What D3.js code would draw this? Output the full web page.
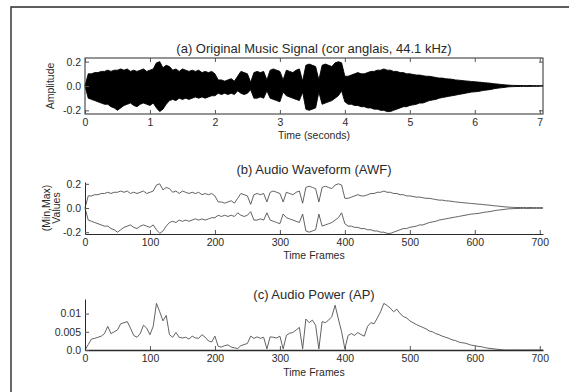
<!DOCTYPE html>
<html><head><meta charset="utf-8">
<script src="https://cdn.jsdelivr.net/npm/d3@7"></script>
<style>
body{margin:0;background:#fff;}
svg{display:block;font-family:"Liberation Sans",Arial,sans-serif;}
</style></head><body>
<svg id="chart" width="569" height="392"></svg>
<script>
// ---- data (frames sampled every 5 frames; 100 frames = 1 s) ----
const frameStep = 5;
const awfMax = [0.0,0.10,0.10,0.11,0.11,0.12,0.12,0.13,0.12,0.13,0.13,0.14,0.13,0.14,0.12,0.13,0.12,0.13,0.14,0.12,
0.13,0.14,0.19,0.20,0.15,0.17,0.16,0.13,0.14,0.12,0.14,0.13,0.12,0.13,0.12,0.13,0.11,0.12,0.11,0.12,
0.10,0.05,0.05,0.04,0.05,0.06,0.04,0.08,0.12,0.11,0.10,0.03,0.11,0.12,0.11,0.12,0.05,0.13,0.14,0.13,
0.12,0.05,0.13,0.12,0.11,0.13,0.14,0.04,0.17,0.18,0.17,0.16,0.05,0.17,0.18,0.17,0.16,0.19,0.20,0.19,
0.08,0.08,0.09,0.10,0.11,0.10,0.10,0.11,0.12,0.12,0.13,0.13,0.14,0.13,0.13,0.12,0.12,0.11,0.11,0.10,
0.10,0.095,0.09,0.09,0.085,0.08,0.08,0.075,0.07,0.065,0.065,0.06,0.058,0.055,0.05,0.048,0.045,0.042,0.04,0.037,
0.035,0.032,0.03,0.027,0.025,0.022,0.018,0.016,0.013,0.01,0.008,0.006,0.005,0.004,0.004,0.004,0.003,0.004,0.003,0.003,
0.003,0.002];
const awfMin = [0.0,-0.10,-0.11,-0.12,-0.13,-0.14,-0.15,-0.15,-0.17,-0.18,-0.20,-0.18,-0.16,-0.15,-0.14,-0.16,-0.17,-0.15,-0.14,-0.15,
-0.16,-0.14,-0.18,-0.21,-0.19,-0.15,-0.12,-0.11,-0.12,-0.10,-0.11,-0.10,-0.11,-0.10,-0.09,-0.10,-0.09,-0.10,-0.09,-0.08,
-0.08,-0.06,-0.07,-0.06,-0.07,-0.06,-0.07,-0.04,-0.06,-0.07,-0.06,-0.03,-0.10,-0.10,-0.09,-0.10,-0.04,-0.10,-0.11,-0.12,
-0.13,-0.05,-0.08,-0.09,-0.10,-0.11,-0.12,-0.05,-0.19,-0.20,-0.19,-0.18,-0.05,-0.15,-0.14,-0.13,-0.12,-0.10,-0.08,-0.04,
-0.13,-0.15,-0.15,-0.16,-0.16,-0.17,-0.17,-0.18,-0.18,-0.19,-0.19,-0.20,-0.20,-0.21,-0.21,-0.20,-0.19,-0.18,-0.17,-0.17,
-0.16,-0.155,-0.15,-0.14,-0.14,-0.13,-0.12,-0.115,-0.11,-0.10,-0.095,-0.09,-0.085,-0.08,-0.075,-0.07,-0.065,-0.06,-0.055,-0.05,
-0.048,-0.045,-0.04,-0.035,-0.032,-0.028,-0.022,-0.018,-0.015,-0.012,-0.008,-0.006,-0.005,-0.004,-0.004,-0.003,-0.004,-0.003,-0.003,-0.003,
-0.003,-0.002];
const audioPower = [0,0.0015,0.003,0.0032,0.0035,0.0038,0.0045,0.0065,0.0045,0.005,0.0055,0.0072,0.0075,0.0078,0.006,0.004,0.0035,0.0045,0.0068,0.006,
0.0042,0.0065,0.0128,0.0105,0.008,0.0095,0.0042,0.0035,0.0048,0.0035,0.0033,0.0035,0.003,0.0038,0.0033,0.0032,0.0042,0.0035,0.0025,0.0022,
0.0038,0.001,0.0008,0.0012,0.0014,0.0008,0.0006,0.0004,0.0012,0.0015,0.0018,0.0038,0.0032,0.0036,0.0032,0.0035,0.0003,0.0036,0.0035,0.0033,
0.0038,0.0003,0.004,0.0046,0.0048,0.0055,0.0062,0.0003,0.0085,0.0075,0.0082,0.0068,0.0003,0.0078,0.0075,0.0082,0.0092,0.0123,0.0085,0.005,
0.0003,0.004,0.0045,0.004,0.0048,0.0042,0.0038,0.0065,0.0075,0.0072,0.0088,0.0105,0.0128,0.0122,0.0115,0.0105,0.0112,0.01,0.0092,0.0088,
0.008,0.0075,0.007,0.0066,0.0062,0.0058,0.0052,0.005,0.0045,0.0042,0.0038,0.0035,0.0032,0.0028,0.0026,0.0022,0.002,0.0019,0.0016,0.0013,
0.0012,0.001,0.0009,0.0007,0.0005,0.0004,0.0003,0.0002,0.0001,0,0,0,0,0,0,0,0,0,0,0,
0,0];

const timeTicks = [0,1,2,3,4,5,6,7];
const timeTickLabels = ["0","1","2","3","4","5","6","7"];
const frameTicks = [0,100,200,300,400,500,600,700];
const frameTickLabels = ["0","100","200","300","400","500","600","700"];
const ampTicks = [-0.2,0,0.2];
const ampTickLabels = ["-0.2","0.0","0.2"];
const powTicks = [0,0.005,0.01];
const powTickLabels = ["0.0","0.005","0.01"];

const titles = ["(a) Original Music Signal (cor anglais, 44.1 kHz)","(b) Audio Waveform (AWF)","(c) Audio Power (AP)"];

// ---- drawing ----
const svg = d3.select("#chart");
const ink = "#2a2a2a";
const TICK = 4;

svg.append("path").attr("d","M11,392V7H569").attr("fill","none").attr("stroke",ink).attr("stroke-width",1.4);

const awf = awfMax.map((v,i)=>({f:i*frameStep, t:i*frameStep/100, max:v, min:awfMin[i], p:audioPower[i]}));

function styleAxis(g){
  g.selectAll("text").attr("fill",ink).style("font-size","10.5px").style("font-family","'Liberation Sans',Arial,sans-serif");
  g.selectAll("line").attr("stroke","#555");
  g.select(".domain").attr("stroke",ink);
}
function fmt(ticks,labels){ return d => labels[ticks.indexOf(d)]; }

// Panel (a)
const L = 85, R = 543;
const xA = d3.scaleLinear([0,7.05],[L,R]);
const yA = d3.scaleLinear([-0.23,0.23],[114,58]);
svg.append("path").datum(awf)
  .attr("d", d3.area().x(d=>xA(d.t)).y0(d=>yA(d.min)).y1(d=>yA(d.max)))
  .attr("fill","#000").attr("stroke","#000").attr("stroke-width",0.9);
svg.append("rect").attr("x",L).attr("y",58).attr("width",R-L).attr("height",56).attr("fill","none").attr("stroke",ink);
svg.append("g").attr("transform","translate(0,114)")
  .call(d3.axisBottom(xA).tickValues(timeTicks).tickFormat(fmt(timeTicks,timeTickLabels)).tickSizeInner(-TICK).tickSizeOuter(0).tickPadding(5))
  .call(styleAxis).call(g=>g.select(".domain").remove());
svg.append("g").attr("transform","translate(0,58)")
  .call(d3.axisTop(xA).tickValues(timeTicks).tickFormat("").tickSizeInner(-TICK).tickSizeOuter(0))
  .call(styleAxis).call(g=>g.select(".domain").remove());
svg.append("g").attr("transform",`translate(${L},0)`)
  .call(d3.axisLeft(yA).tickValues(ampTicks).tickFormat(fmt(ampTicks,ampTickLabels)).tickSizeInner(-TICK).tickSizeOuter(0).tickPadding(4))
  .call(styleAxis).call(g=>g.select(".domain").remove());
svg.append("g").attr("transform",`translate(${R},0)`)
  .call(d3.axisRight(yA).tickValues(ampTicks).tickFormat("").tickSizeInner(-TICK).tickSizeOuter(0))
  .call(styleAxis).call(g=>g.select(".domain").remove());

// Panel (b)
const xF = d3.scaleLinear([0,705],[L,R]);
const yB = d3.scaleLinear([-0.215,0.215],[234,182]);
const lineStyle = sel => sel.attr("fill","none").attr("stroke","#505050").attr("stroke-width",0.9);
svg.append("path").datum(awf).attr("d", d3.line().x(d=>xF(d.f)).y(d=>yB(d.max))).call(lineStyle);
svg.append("path").datum(awf).attr("d", d3.line().x(d=>xF(d.f)).y(d=>yB(d.min))).call(lineStyle);
svg.append("g").attr("transform","translate(0,234)")
  .call(d3.axisBottom(xF).tickValues(frameTicks).tickFormat(fmt(frameTicks,frameTickLabels)).tickSizeInner(-TICK).tickSizeOuter(0).tickPadding(5))
  .call(styleAxis);
svg.append("g").attr("transform",`translate(${L},0)`)
  .call(d3.axisLeft(yB).tickValues(ampTicks).tickFormat(fmt(ampTicks,ampTickLabels)).tickSizeInner(-TICK).tickSizeOuter(0).tickPadding(4))
  .call(styleAxis);

// Panel (c)
const yC = d3.scaleLinear([0,0.014],[350,299]);
svg.append("path").datum(awf).attr("d", d3.line().x(d=>xF(d.f)).y(d=>yC(d.p))).call(lineStyle);
svg.append("g").attr("transform","translate(0,350)")
  .call(d3.axisBottom(xF).tickValues(frameTicks).tickFormat(fmt(frameTicks,frameTickLabels)).tickSizeInner(-TICK).tickSizeOuter(0).tickPadding(5))
  .call(styleAxis).call(g=>g.select(".domain").attr("stroke-width",1.6));
svg.append("g").attr("transform",`translate(${L},0)`)
  .call(d3.axisLeft(yC).tickValues(powTicks).tickFormat(fmt(powTicks,powTickLabels)).tickSizeInner(-TICK).tickSizeOuter(0).tickPadding(4))
  .call(styleAxis);

// Titles and axis labels
const cx = (L+R)/2;
const txt = (x,y,s,size) => svg.append("text").attr("x",x).attr("y",y).attr("text-anchor","middle")
  .attr("fill",ink).style("font-size",size+"px").text(s);
txt(cx,53,titles[0],13);
txt(cx,174,titles[1],13);
txt(cx,299,titles[2],13);
txt(cx,139,"Time (seconds)",10.5);
txt(cx,259,"Time Frames",10.5);
txt(cx,376,"Time Frames",10.5);
const vtxt = (x,y,s) => svg.append("text").attr("transform",`translate(${x},${y}) rotate(-90)`)
  .attr("text-anchor","middle").attr("fill",ink).style("font-size","10.5px").text(s);
vtxt(54,86,"Amplitude");
vtxt(50,208,"(Min,Max)");
vtxt(60,208,"Values");
</script>
</body></html>
